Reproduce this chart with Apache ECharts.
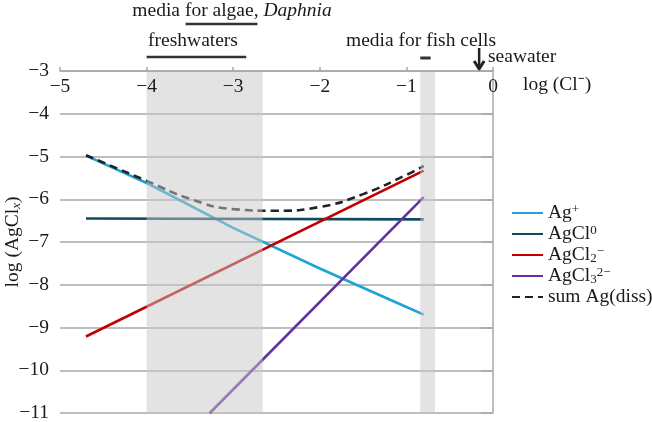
<!DOCTYPE html>
<html><head><meta charset="utf-8">
<script src="https://cdn.jsdelivr.net/npm/echarts@6/dist/echarts.min.js"></script>
<style>html,body{margin:0;padding:0;background:#fff}#c{width:652px;height:422px}</style>
</head><body><div id="c"></div>
<script>
// ---- data ----
const xTicks = [-5, -4, -3, -2, -1, 0];
const yTicks = [-11, -10, -9, -8, -7, -6, -5, -4, -3];
const agPlus = [[-4.7,-4.98],[-4,-5.62],[-3,-6.67],[-2,-7.62],[-1,-8.52],[-0.8,-8.7]];
const agCl0 = [[-4.7,-6.45],[-0.8,-6.47]];
const agCl2 = [[-4.7,-9.21],[-0.8,-5.33]];
const agCl3 = [[-3.27,-11],[-0.8,-5.95]];
const sumAg = [[-4.7,-4.97],[-4,-5.57],[-3.5,-5.99],[-3,-6.23],[-2.5,-6.27],[-2,-6.18],[-1.5,-5.88],[-1,-5.43],[-0.8,-5.22]];
const bands = [[-4,-2.66],[-0.84,-0.67]];
const freshBar = [-4, -2.85];
const algaeBar = [-3.55, -2.72];
const fishBar = [-0.84, -0.72];
const seawaterX = -0.16;

const serif = 'Liberation Serif';
const FS = 19.5;
const gridCol = '#a8a8a8';
const txt = '#1a1a1a';
const chart = echarts.init(document.getElementById('c'));
const legendNames = {
  'Ag+': 'Ag{sup|+}',
  'AgCl0': 'AgCl{sup|0}',
  'AgCl2-': 'AgCl{sub|2}{sup|−}',
  'AgCl3 2-': 'AgCl{sub|3}{sup|2−}',
  'sum Ag(diss)': 'sum Ag(diss)'
};
const lineSeries = (name, data, color, extra) => Object.assign({
  name, type: 'line', data, showSymbol: false, symbol: 'none',
  lineStyle: {color, width: 2.6}, itemStyle: {color}, z: 2, silent: true
}, extra || {});

chart.setOption({
  animation: false,
  grid: {left: 60, top: 71, right: 159, bottom: 9, containLabel: false, outerBoundsMode: 'none'},
  xAxis: {
    type: 'value', position: 'top', min: -5, max: 0, interval: 1, z: 10,
    axisLine: {lineStyle: {color: gridCol, width: 1.5}},
    axisTick: {show: true, inside: false, length: 4, lineStyle: {color: gridCol, width: 1.5}},
    axisLabel: {inside: true, margin: 6, color: txt, fontFamily: serif, fontSize: FS,
      formatter: v => String(v).replace('-', '−')},
    splitLine: {show: false}
  },
  yAxis: {
    type: 'value', min: -11, max: -3, interval: 1,
    axisLine: {show: true, lineStyle: {color: gridCol, width: 1.5}},
    axisTick: {show: true, length: 12, lineStyle: {color: gridCol, width: 1.5}},
    axisLabel: {margin: 11, color: txt, fontFamily: serif, fontSize: FS,
      formatter: v => String(v).replace('-', '−')},
    splitLine: {show: true, lineStyle: {color: gridCol, width: 1.5}}
  },
  legend: {
    orient: 'vertical', left: 506, top: 198, itemWidth: 31, itemHeight: 12, itemGap: 1,
    itemStyle: {opacity: 0},
    data: ['Ag+','AgCl0','AgCl2-','AgCl3 2-','sum Ag(diss)'],
    formatter: n => legendNames[n],
    textStyle: {color: txt, fontFamily: serif, fontSize: FS, lineHeight: 20,
      rich: {
        sup: {fontFamily: serif, fontSize: 13, verticalAlign: 'top', color: txt, lineHeight: 20},
        sub: {fontFamily: serif, fontSize: 13, verticalAlign: 'bottom', color: txt, lineHeight: 20}
      }}
  },
  series: [
    lineSeries('Ag+', agPlus, '#1ea3d8'),
    lineSeries('AgCl0', agCl0, '#0e4a5e'),
    lineSeries('AgCl2-', agCl2, '#c00000'),
    lineSeries('AgCl3 2-', agCl3, '#6330a2'),
    lineSeries('sum Ag(diss)', sumAg, '#222222', {smooth: true, lineStyle: {color: '#222', width: 2.6, type: [8, 5]}, z: 3}),
    {
      type: 'custom', name: 'bands', data: bands, z: 5, silent: true,
      renderItem: (params, api) => {
        const p0 = api.coord([api.value(0), -3]);
        const p1 = api.coord([api.value(1), -11]);
        return {type: 'rect', shape: {x: p0[0], y: p0[1] + 1, width: p1[0] - p0[0], height: p1[1] - p0[1] - 1},
          style: {fill: 'rgba(200,200,200,0.5)'}};
      }
    }
  ]
});

const px = x => chart.convertToPixel({gridIndex: 0}, [x, -3])[0];
const font = FS + 'px ' + serif;
const textStyle = (t, x, y, align) => ({type: 'text', x, y, style: {text: t, fill: txt, font, textAlign: align || 'center', textVerticalAlign: 'middle'}});
const bar = (r, y, w) => ({type: 'line', shape: {x1: px(r[0]), y1: y, x2: px(r[1]), y2: y}, style: {stroke: '#333', lineWidth: w || 2.5}});
const ax = px(seawaterX);
chart.setOption({
  graphic: [
    {type: 'text', x: 232, y: 11, style: {
      text: 'media for algae, {i|Daphnia}', fill: txt, font, textAlign: 'center', textVerticalAlign: 'middle',
      rich: {i: {fontFamily: serif, fontSize: FS, fontStyle: 'italic', fill: txt}}}},
    bar(algaeBar, 24),
    textStyle('freshwaters', 193, 41),
    bar(freshBar, 57),
    textStyle('media for fish cells', 421, 41),
    bar(fishBar, 58, 3),
    textStyle('seawater', 488, 57, 'left'),
    {type: 'line', shape: {x1: ax, y1: 48, x2: ax, y2: 68}, style: {stroke: '#222', lineWidth: 2.5}},
    {type: 'polyline', shape: {points: [[ax - 5, 61], [ax, 69], [ax + 5, 61]]}, style: {stroke: '#222', lineWidth: 3, fill: null}},
    textStyle('log (Cl⁻)', 523, 85, 'left'),
    {type: 'text', x: 13, y: 242, rotation: Math.PI / 2, style: {
      text: 'log (AgCl{sub|x})', fill: txt, font, textAlign: 'center', textVerticalAlign: 'middle',
      rich: {sub: {fontFamily: serif, fontSize: 13, fontStyle: 'italic', verticalAlign: 'bottom', fill: txt}}}}
  ]
});
</script></body></html>
